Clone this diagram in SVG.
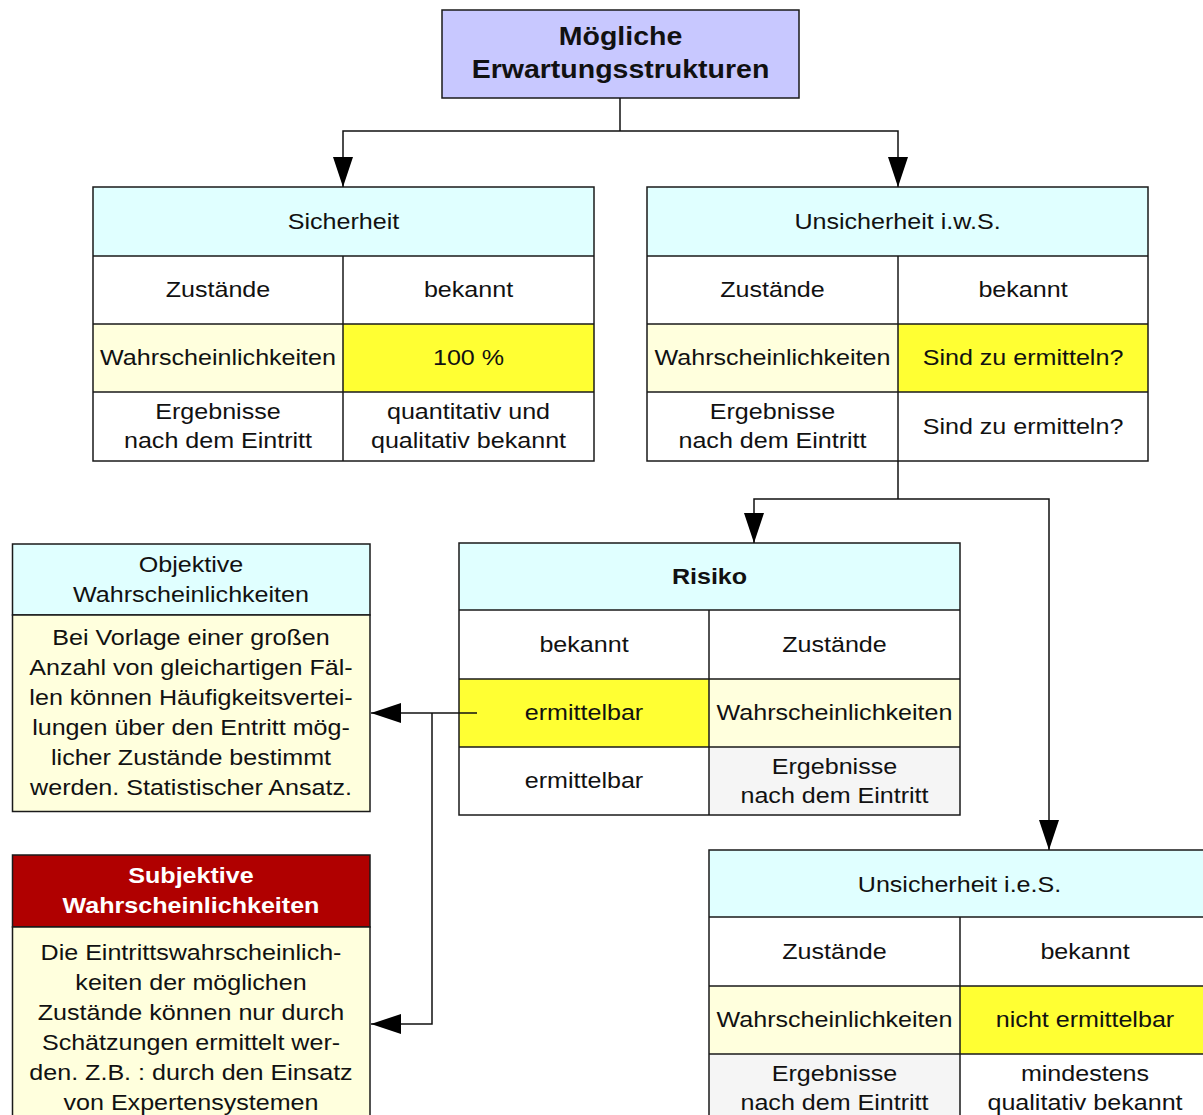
<svg xmlns="http://www.w3.org/2000/svg" width="1203" height="1115" viewBox="0 0 1203 1115">
  <style>
    text { font-family: "Liberation Sans", Arial, sans-serif; font-size: 22px; text-anchor: middle; fill: #111; }
    .b { font-weight: bold; }
    .title { font-weight: bold; font-size: 25px; }
    .w { fill: #ffffff; }
    .box { stroke: #1a1a1a; stroke-width: 1.5; }
    .grid { stroke: #1a1a1a; stroke-width: 1.5; fill: none; }
    .cyan { fill: #e0ffff; }
    .ly { fill: #ffffdd; }
    .yl { fill: #ffff33; }
    .wh { fill: #ffffff; }
    .gr { fill: #f5f5f5; }
    .red { fill: #b00000; }
    .lav { fill: #c8c8ff; }
    .conn { stroke: #111; stroke-width: 1.5; fill: none; }
  </style>
  <defs>
    <marker id="arrow" viewBox="0 0 30 20" refX="30" refY="10" markerWidth="30" markerHeight="20" markerUnits="userSpaceOnUse" orient="auto">
      <path d="M0,0 L30,10 L0,20 z" fill="#000"/>
    </marker>
  </defs>
  <rect width="1203" height="1115" fill="#ffffff"/>

  <!-- root node -->
  <g id="n-title">
    <rect class="box lav" x="442" y="10" width="357" height="88"/>
    <text class="title" transform="translate(620.5 45) scale(1.14 1)">Mögliche</text>
    <text class="title" transform="translate(620.5 78) scale(1.14 1)">Erwartungsstrukturen</text>
  </g>

  <!-- Sicherheit -->
  <g id="n-sicherheit">
    <rect class="cyan" x="93" y="187" width="501" height="69"/>
    <rect class="wh" x="93" y="256" width="501" height="68"/>
    <rect class="ly" x="93" y="324" width="250" height="68"/>
    <rect class="yl" x="343" y="324" width="251" height="68"/>
    <rect class="wh" x="93" y="392" width="501" height="69"/>
    <path class="grid" d="M93,256 H594 M93,324 H594 M93,392 H594 M343,256 V461"/>
    <rect class="grid" x="93" y="187" width="501" height="274"/>
    <text transform="translate(343.5 229) scale(1.14 1)">Sicherheit</text>
    <text transform="translate(218 297) scale(1.14 1)">Zustände</text>
    <text transform="translate(468.5 297) scale(1.14 1)">bekannt</text>
    <text transform="translate(218 365) scale(1.14 1)">Wahrscheinlichkeiten</text>
    <text transform="translate(468.5 365) scale(1.14 1)">100 %</text>
    <text transform="translate(218 419) scale(1.14 1)">Ergebnisse</text>
    <text transform="translate(218 448) scale(1.14 1)">nach dem Eintritt</text>
    <text transform="translate(468.5 419) scale(1.14 1)">quantitativ und</text>
    <text transform="translate(468.5 448) scale(1.14 1)">qualitativ bekannt</text>
  </g>

  <!-- Unsicherheit i.w.S. -->
  <g id="n-unsicherheit-iws">
    <rect class="cyan" x="647" y="187" width="501" height="69"/>
    <rect class="wh" x="647" y="256" width="501" height="68"/>
    <rect class="ly" x="647" y="324" width="251" height="68"/>
    <rect class="yl" x="898" y="324" width="250" height="68"/>
    <rect class="wh" x="647" y="392" width="501" height="69"/>
    <path class="grid" d="M647,256 H1148 M647,324 H1148 M647,392 H1148 M898,256 V461"/>
    <rect class="grid" x="647" y="187" width="501" height="274"/>
    <text transform="translate(897.5 229) scale(1.14 1)">Unsicherheit i.w.S.</text>
    <text transform="translate(772.5 297) scale(1.14 1)">Zustände</text>
    <text transform="translate(1023 297) scale(1.14 1)">bekannt</text>
    <text transform="translate(772.5 365) scale(1.14 1)">Wahrscheinlichkeiten</text>
    <text transform="translate(1023 365) scale(1.14 1)">Sind zu ermitteln?</text>
    <text transform="translate(772.5 419) scale(1.14 1)">Ergebnisse</text>
    <text transform="translate(772.5 448) scale(1.14 1)">nach dem Eintritt</text>
    <text transform="translate(1023 433.5) scale(1.14 1)">Sind zu ermitteln?</text>
  </g>

  <!-- Risiko -->
  <g id="n-risiko">
    <rect class="cyan" x="459" y="543" width="501" height="67"/>
    <rect class="wh" x="459" y="610" width="501" height="69"/>
    <rect class="yl" x="459" y="679" width="250" height="68"/>
    <rect class="ly" x="709" y="679" width="251" height="68"/>
    <rect class="wh" x="459" y="747" width="250" height="68"/>
    <rect class="gr" x="709" y="747" width="251" height="68"/>
    <path class="grid" d="M459,610 H960 M459,679 H960 M459,747 H960 M709,610 V815"/>
    <rect class="grid" x="459" y="543" width="501" height="272"/>
    <text class="b" transform="translate(709.5 584) scale(1.14 1)">Risiko</text>
    <text transform="translate(584 652) scale(1.14 1)">bekannt</text>
    <text transform="translate(834.5 652) scale(1.14 1)">Zustände</text>
    <text transform="translate(584 720) scale(1.14 1)">ermittelbar</text>
    <text transform="translate(834.5 720) scale(1.14 1)">Wahrscheinlichkeiten</text>
    <text transform="translate(584 788) scale(1.14 1)">ermittelbar</text>
    <text transform="translate(834.5 774) scale(1.14 1)">Ergebnisse</text>
    <text transform="translate(834.5 803) scale(1.14 1)">nach dem Eintritt</text>
  </g>

  <!-- Unsicherheit i.e.S. -->
  <g id="n-unsicherheit-ies">
    <rect class="cyan" x="709" y="850" width="501" height="67"/>
    <rect class="wh" x="709" y="917" width="501" height="69"/>
    <rect class="ly" x="709" y="986" width="251" height="68"/>
    <rect class="yl" x="960" y="986" width="250" height="68"/>
    <rect class="gr" x="709" y="1054" width="251" height="68"/>
    <rect class="wh" x="960" y="1054" width="250" height="68"/>
    <path class="grid" d="M709,917 H1210 M709,986 H1210 M709,1054 H1210 M960,917 V1122"/>
    <rect class="grid" x="709" y="850" width="501" height="272"/>
    <text transform="translate(959.5 891.5) scale(1.14 1)">Unsicherheit i.e.S.</text>
    <text transform="translate(834.5 958.5) scale(1.14 1)">Zustände</text>
    <text transform="translate(1085 958.5) scale(1.14 1)">bekannt</text>
    <text transform="translate(834.5 1027) scale(1.14 1)">Wahrscheinlichkeiten</text>
    <text transform="translate(1085 1027) scale(1.14 1)">nicht ermittelbar</text>
    <text transform="translate(834.5 1081) scale(1.14 1)">Ergebnisse</text>
    <text transform="translate(834.5 1110) scale(1.14 1)">nach dem Eintritt</text>
    <text transform="translate(1085 1081) scale(1.14 1)">mindestens</text>
    <text transform="translate(1085 1110) scale(1.14 1)">qualitativ bekannt</text>
  </g>

  <!-- Objektive Wahrscheinlichkeiten -->
  <g id="n-objektiv">
    <rect class="box cyan" x="12.5" y="544" width="357.5" height="71"/>
    <rect class="box ly" x="12.5" y="615" width="357.5" height="196.5"/>
    <text transform="translate(191 572) scale(1.14 1)">Objektive</text>
    <text transform="translate(191 602) scale(1.14 1)">Wahrscheinlichkeiten</text>
    <text transform="translate(191 645) scale(1.14 1)">Bei Vorlage einer großen</text>
    <text transform="translate(191 675) scale(1.14 1)">Anzahl von gleichartigen Fäl-</text>
    <text transform="translate(191 705) scale(1.14 1)">len können Häufigkeitsvertei-</text>
    <text transform="translate(191 735) scale(1.14 1)">lungen über den Entritt mög-</text>
    <text transform="translate(191 765) scale(1.14 1)">licher Zustände bestimmt</text>
    <text transform="translate(191 795) scale(1.14 1)">werden. Statistischer Ansatz.</text>
  </g>

  <!-- Subjektive Wahrscheinlichkeiten -->
  <g id="n-subjektiv">
    <rect class="box red" x="12.5" y="855" width="357.5" height="72"/>
    <rect class="box ly" x="12.5" y="927" width="357.5" height="200"/>
    <text class="b w" transform="translate(191 883) scale(1.14 1)">Subjektive</text>
    <text class="b w" transform="translate(191 913) scale(1.14 1)">Wahrscheinlichkeiten</text>
    <text transform="translate(191 960) scale(1.14 1)">Die Eintrittswahrscheinlich-</text>
    <text transform="translate(191 990) scale(1.14 1)">keiten der möglichen</text>
    <text transform="translate(191 1020) scale(1.14 1)">Zustände können nur durch</text>
    <text transform="translate(191 1050) scale(1.14 1)">Schätzungen ermittelt wer-</text>
    <text transform="translate(191 1080) scale(1.14 1)">den. Z.B. : durch den Einsatz</text>
    <text transform="translate(191 1110) scale(1.14 1)">von Expertensystemen</text>
  </g>

  <!-- connectors, drawn last so the stub into the "ermittelbar" cell stays visible -->
  <g id="connectors">
    <path class="conn" d="M620,98 V131"/>
    <path class="conn" d="M620,131 H343 V187" marker-end="url(#arrow)"/>
    <path class="conn" d="M620,131 H898 V187" marker-end="url(#arrow)"/>
    <path class="conn" d="M898,461 V499"/>
    <path class="conn" d="M898,499 H754 V543" marker-end="url(#arrow)"/>
    <path class="conn" d="M898,499 H1049 V850" marker-end="url(#arrow)"/>
    <path class="conn" d="M477,713 H371" marker-end="url(#arrow)"/>
    <path class="conn" d="M432,713 V1024 H371" marker-end="url(#arrow)"/>
  </g>
</svg>
